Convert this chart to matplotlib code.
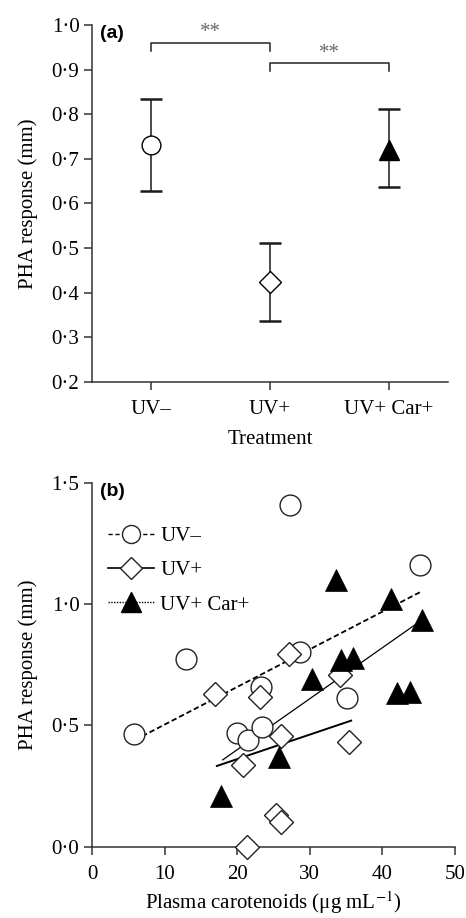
import matplotlib
matplotlib.use("Agg")
import matplotlib.pyplot as plt
import numpy as np
from matplotlib.ticker import FuncFormatter
from matplotlib.lines import Line2D

plt.rcParams['font.family'] = ['Liberation Serif', 'DejaVu Serif']
plt.rcParams['mathtext.fontset'] = 'stix'

# ---- Panel (a) data ----
treatments = ['UV\u2013', 'UV+', 'UV+ Car+']
mean_resp = [0.731, 0.424, 0.720]
err_upper = [0.833, 0.511, 0.812]
err_lower = [0.627, 0.337, 0.636]
sig_pairs = [(0, 1), (1, 2)]
sig_heights = [0.960, 0.915]
sig_labels = ['**', '**']

# ---- Panel (b) data ----
uvm_x = [27.3, 45.2, 13.0, 28.6, 23.3, 35.1, 5.8, 20.0, 21.5, 23.4]
uvm_y = [1.41, 1.16, 0.774, 0.805, 0.66, 0.612, 0.464, 0.468, 0.44, 0.495]
uvp_x = [27.2, 34.2, 16.9, 23.1, 26.1, 35.4, 20.8, 25.4, 26.1, 21.3]
uvp_y = [0.794, 0.708, 0.63, 0.616, 0.457, 0.433, 0.337, 0.13, 0.103, 0.0]
car_x = [33.6, 41.2, 45.4, 34.3, 35.9, 30.3, 42.0, 43.8, 25.7, 17.8]
car_y = [1.10, 1.02, 0.935, 0.77, 0.777, 0.69, 0.633, 0.64, 0.37, 0.21]
# regression lines (x-range, fitted y at ends)
fit_uvm_x = [5.9, 45.2]
fit_uvm_y = [0.44, 1.05]
fit_uvp_x = [17.2, 35.7]
fit_uvp_y = [0.333, 0.52]
fit_car_x = [18.0, 45.2]
fit_car_y = [0.358, 0.93]

W, H = 466, 918
fig = plt.figure(figsize=(W / 100, H / 100), dpi=100)

spine_col = '#333333'
tick_fs = 15
dot_fmt = FuncFormatter(lambda v, p: f'{v:.1f}'.replace('.', '\u00b7'))


def style_axes(ax):
    for s in ['top', 'right']:
        ax.spines[s].set_visible(False)
    for s in ['left', 'bottom']:
        ax.spines[s].set_color(spine_col)
        ax.spines[s].set_linewidth(1.1)
    ax.tick_params(direction='out', length=6, width=1.1, color=spine_col,
                   labelsize=tick_fs, pad=3)


# ---------- Panel (a) ----------
axa = fig.add_axes([92 / W, 1 - 381.7 / H, (448 - 92) / W, (381.7 - 25) / H])
style_axes(axa)
xpos = np.arange(len(treatments))
markers_a = ['o', 'D', '^']
msizes_a = [13.5, 11.7, 14.5]
for i in range(len(treatments)):
    yerr = [[mean_resp[i] - err_lower[i]], [err_upper[i] - mean_resp[i]]]
    axa.errorbar([xpos[i]], [mean_resp[i]], yerr=yerr, fmt='none',
                 ecolor='#1a1a1a', elinewidth=1.1, capsize=8, capthick=1.8,
                 zorder=1)
    fc = 'black' if markers_a[i] == '^' else 'white'
    axa.plot([xpos[i]], [mean_resp[i]], marker=markers_a[i], ms=msizes_a[i],
             mfc=fc, mec='black', mew=1.0, ls='none', zorder=3)

for (a, b), h, lab in zip(sig_pairs, sig_heights, sig_labels):
    axa.plot([a, a, b, b], [h - 0.018, h, h, h - 0.018], color='#222222',
             lw=1.1, clip_on=False)
    axa.text((a + b) / 2, h + 0.012, lab, ha='center', va='baseline',
             fontsize=15, color='#666666')

axa.set_xlim(-0.5, 2.5)
axa.set_ylim(0.2, 1.0)
axa.set_yticks(np.arange(0.2, 1.01, 0.1))
axa.yaxis.set_major_formatter(dot_fmt)
axa.set_xticks(xpos)
axa.set_xticklabels(treatments)
axa.tick_params(axis='x', pad=7)
axa.set_xlabel('Treatment', fontsize=tick_fs, labelpad=8)
axa.set_ylabel('PHA response (mm)', fontsize=tick_fs, labelpad=10)
axa.text(0.022, 1.0, '(a)', transform=axa.transAxes, fontsize=14,
         fontweight='bold', family='Liberation Sans', va='top', ha='left')

# ---------- Panel (b) ----------
axb = fig.add_axes([92 / W, 1 - 846.7 / H, (455 - 92) / W, (846.7 - 483) / H])
style_axes(axb)
axb.plot(fit_uvm_x, fit_uvm_y, color='black', lw=1.3, ls=(0, (3, 1.6)), zorder=1)
axb.plot(fit_uvp_x, fit_uvp_y, color='black', lw=1.4, ls='-', zorder=1)
axb.plot(fit_car_x, fit_car_y, color='black', lw=0.9, ls='-', zorder=1)
axb.plot(uvm_x, uvm_y, 'o', ms=15, mfc='white', mec='#222222', mew=1.0,
         ls='none', zorder=3, clip_on=False)
axb.plot(uvp_x, uvp_y, 'D', ms=12, mfc='white', mec='#222222', mew=1.0,
         ls='none', zorder=3, clip_on=False)
axb.plot(car_x, car_y, '^', ms=15.5, mfc='black', mec='black', mew=0.5,
         ls='none', zorder=3, clip_on=False)
axb.set_xlim(0, 50)
axb.set_ylim(0, 1.5)
axb.set_xticks([0, 10, 20, 30, 40, 50])
axb.set_yticks([0, 0.5, 1.0, 1.5])
axb.yaxis.set_major_formatter(dot_fmt)
axb.tick_params(axis='x', pad=7)
axb.set_xlabel('Plasma carotenoids (\u03bcg mL$^{\u22121}$)', fontsize=15,
               labelpad=4)
axb.set_ylabel('PHA response (mm)', fontsize=tick_fs, labelpad=10)
axb.text(0.022, 1.0, '(b)', transform=axb.transAxes, fontsize=14,
         fontweight='bold', family='Liberation Sans', va='top', ha='left')

handles = [
    Line2D([], [], color='black', lw=1.0, ls=(0, (3, 2)), marker='o', ms=13,
           mfc='white', mec='#222222'),
    Line2D([], [], color='black', lw=1.2, ls='-', marker='D', ms=11.5,
           mfc='white', mec='#222222'),
    Line2D([], [], color='black', lw=1.0, ls=(0, (1, 1)), marker='^', ms=15,
           mfc='black', mec='black'),
]
axb.legend(handles, treatments, loc='upper left', bbox_to_anchor=(0.045, 0.88),
           frameon=False, fontsize=tick_fs, handlelength=2.2, handletextpad=0.3,
           labelspacing=0.7, borderaxespad=0, borderpad=0)

fig.savefig('out.png', dpi=100)
